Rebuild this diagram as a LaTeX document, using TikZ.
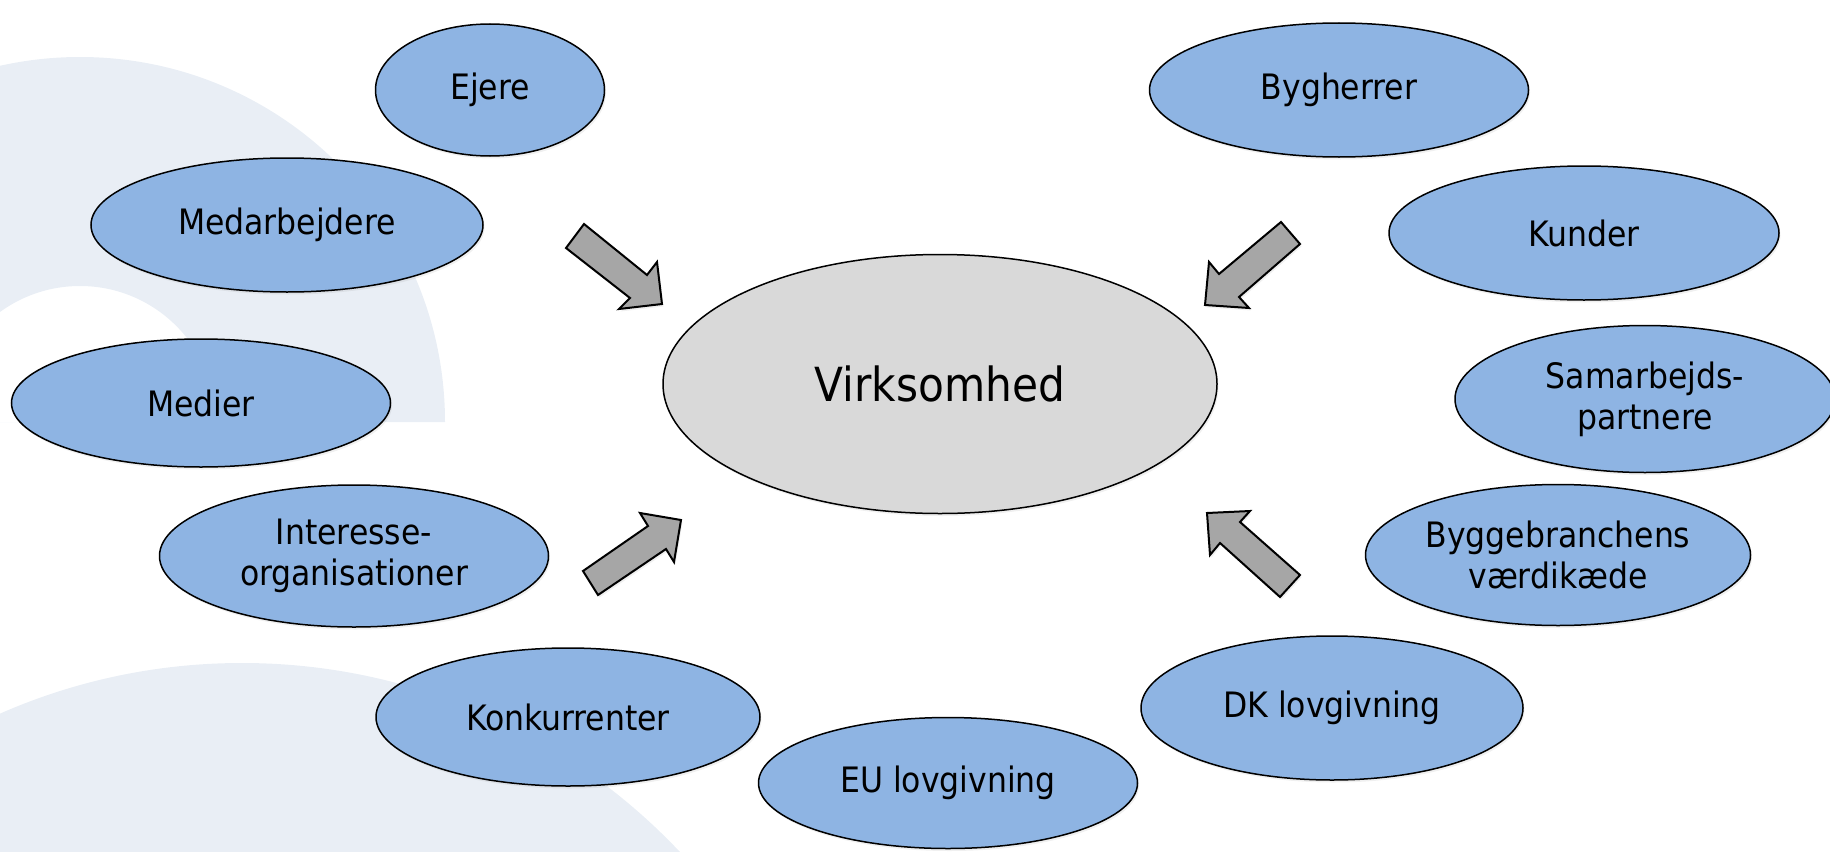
\documentclass[tikz,border=0pt]{standalone}
\usepackage{fontspec}
\setmainfont{DejaVu Sans Condensed}
\usetikzlibrary{shapes.geometric,shadows}
\definecolor{bgc}{RGB}{233,238,245}
\definecolor{nodeblue}{RGB}{142,180,227}
\definecolor{coregray}{RGB}{217,217,217}
\definecolor{arrowgray}{RGB}{166,166,166}
\begin{document}
\begin{tikzpicture}[x=1pt,y=-1pt,
  softshadow/.style={drop shadow={opacity=0.12, shadow xshift=1.5pt, shadow yshift=-2.5pt}},
  stake/.style={ellipse, draw=black, line width=1.5pt, fill=nodeblue, inner sep=0pt, align=center, softshadow, font=\fontsize{35}{41}\selectfont},
  core/.style={ellipse, draw=black, line width=1.5pt, fill=coregray, inner sep=0pt, softshadow, font=\fontsize{47}{56}\selectfont},
  bigarrow/.style={draw=black, line width=2pt, fill=arrowgray, line join=miter, softshadow}]
\useasboundingbox (0,0) rectangle (1830,851);
\clip (0,0) rectangle (1830,851);
% background decoration
\fill[bgc, even odd rule] (445,422) arc (0:-180:365) -- cycle
  (216,422) arc (0:-180:136) -- cycle;
\fill[bgc] (242,1265) circle (602);
% arrows
\draw[bigarrow] (584,224) -- (647,275) -- (657,262) -- (662,304) -- (619,309) -- (630,298) -- (566,248) -- cycle;
\draw[bigarrow] (583,571) -- (648,526) -- (640,513) -- (681,520) -- (674,562) -- (666,549) -- (598,595) -- cycle;
\draw[bigarrow] (1281,222) -- (1219,274) -- (1209,262) -- (1205,305) -- (1249,308) -- (1239,297) -- (1300,244) -- cycle;
\draw[bigarrow] (1207,513) -- (1250,511) -- (1240,522) -- (1300,575) -- (1280,597) -- (1220,543) -- (1210,555) -- cycle;
% nodes
\node[core, minimum width=554, minimum height=259] (firm) at (940,384) {Virksomhed};
\node[stake, minimum width=229, minimum height=132] (ejere) at (490,90) {Ejere};
\node[stake, minimum width=379, minimum height=134] (bygh) at (1339,90) {Bygherrer};
\node[stake, minimum width=392, minimum height=134] (medarb) at (287,225) {Medarbejdere};
\node[stake, minimum width=390, minimum height=134] (kunder) at (1584,233) {Kunder};
\node[stake, minimum width=379, minimum height=128] (medier) at (201,403) {Medier};
\node[stake, minimum width=380, minimum height=147] (samarb) at (1645,399) {Samarbejds-\\partnere};
\node[stake, minimum width=389, minimum height=142] (interesse) at (354,556) {Interesse-\\organisationer};
\node[stake, minimum width=385, minimum height=141] (bygge) at (1558,555) {Byggebranchens\\værdikæde};
\node[stake, minimum width=384, minimum height=138] (konk) at (568,717) {Konkurrenter};
\node[stake, minimum width=382, minimum height=144] (dk) at (1332,708) {DK lovgivning};
\node[stake, minimum width=379, minimum height=131] (eu) at (948,783) {EU lovgivning};
\end{tikzpicture}
\end{document}
